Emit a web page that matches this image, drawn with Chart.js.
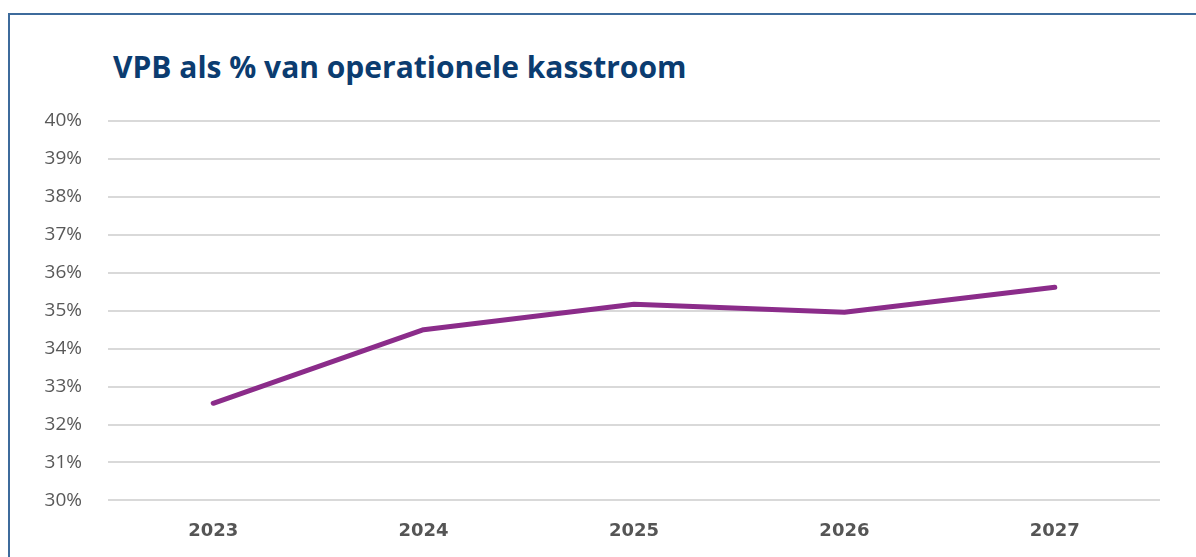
<!DOCTYPE html>
<html>
<head>
<meta charset="utf-8">
<script src="https://cdn.jsdelivr.net/npm/chart.js@4"></script>
<style>
  html, body { margin: 0; padding: 0; background: #fff; overflow: hidden; }
  #frame {
    position: absolute; left: 8px; top: 13px; width: 1200px; height: 560px;
    border-top: 2px solid #3d6b9c; border-left: 2px solid #3d6b9c;
  }
  #title {
    position: absolute; left: 113px; top: 46px; margin: 0;
    font-family: "Open Sans", sans-serif; font-weight: 700; font-size: 30px;
    color: #0b3c70; white-space: nowrap;
  }
  #wrap { position: absolute; left: 0; top: 0; width: 1196px; height: 557px; }
</style>
</head>
<body>
<div id="frame"></div>
<h1 id="title">VPB als % van operationele kasstroom</h1>
<div id="wrap"><canvas id="vpbChart"></canvas></div>
<script>
const years = ["2023", "2024", "2025", "2026", "2027"];
const vpbShare = [32.56, 34.5, 35.17, 34.96, 35.62];
const yMin = 30;
const yMax = 40;

const ctx = document.getElementById("vpbChart");

new Chart(ctx, {
  type: "line",
  data: {
    labels: years,
    datasets: [{
      data: vpbShare,
      borderColor: "#8b2c8a",
      borderWidth: 5,
      borderCapStyle: "round",
      borderJoinStyle: "round",
      pointRadius: 0,
      tension: 0
    }]
  },
  options: {
    responsive: true,
    maintainAspectRatio: false,
    animation: false,
    layout: { padding: { top: 121, right: 36, bottom: 3, left: 0 } },
    plugins: {
      legend: { display: false },
      tooltip: { enabled: false }
    },
    scales: {
      x: {
        offset: true,
        grid: { display: false },
        border: { display: false },
        ticks: {
          color: "#555555",
          padding: 12,
          font: { family: "DejaVu Sans", size: 18, weight: "bold" }
        }
      },
      y: {
        min: yMin,
        max: yMax,
        afterFit: scale => { scale.width = 108; },
        grid: { color: "#d9d9d9", lineWidth: 2, drawTicks: false },
        border: { display: false },
        ticks: {
          stepSize: 1,
          color: "#595959",
          padding: 26,
          font: { family: "Open Sans", size: 19 },
          callback: v => v + "%"
        }
      }
    }
  }
});
</script>
</body>
</html>
